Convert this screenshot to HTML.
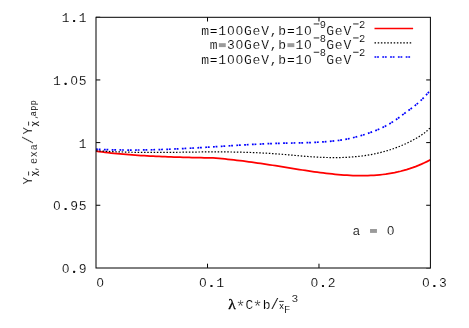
<!DOCTYPE html>
<html><head><meta charset="utf-8"><title>plot</title>
<style>
html,body{margin:0;padding:0;background:#fff;}
body{width:469px;height:328px;overflow:hidden;}
svg{display:block;will-change:transform;}
text{font-family:"Liberation Mono",monospace;fill:#000;stroke:#fff;stroke-width:0.15px;white-space:pre;}
.t{font-size:13.0px;letter-spacing:0.770px;}
.s{font-size:10.4px;letter-spacing:0.600px;stroke-width:0.1px;}
</style></head><body>
<svg width="469" height="328" viewBox="0 0 469 328">
<rect x="0" y="0" width="469" height="328" fill="#fff"/>
<path d="M96.10,151.18 L99.10,151.58 L102.09,151.97 L105.09,152.33 L108.09,152.68 L111.09,153.01 L114.08,153.33 L117.08,153.63 L120.08,153.91 L123.08,154.18 L126.07,154.44 L129.07,154.68 L132.07,154.91 L135.07,155.12 L138.06,155.33 L141.06,155.52 L144.06,155.70 L147.06,155.87 L150.05,156.03 L153.05,156.18 L156.05,156.33 L159.05,156.46 L162.04,156.59 L165.04,156.70 L168.04,156.81 L171.04,156.92 L174.03,157.02 L177.03,157.11 L180.03,157.20 L183.03,157.28 L186.02,157.36 L189.02,157.43 L192.02,157.51 L195.02,157.58 L198.01,157.65 L201.01,157.71 L204.01,157.78 L207.01,157.84 L210.00,157.91 L213.00,157.97 L215.98,158.22 L218.96,158.46 L221.93,158.72 L224.91,158.99 L227.89,159.29 L230.87,159.60 L233.85,159.92 L236.82,160.26 L239.80,160.62 L242.78,160.99 L245.76,161.37 L248.74,161.77 L251.72,162.17 L254.69,162.59 L257.67,163.01 L260.65,163.45 L263.63,163.89 L266.61,164.34 L269.58,164.80 L272.56,165.26 L275.54,165.73 L278.52,166.21 L281.50,166.68 L284.47,167.16 L287.45,167.64 L290.43,168.12 L293.41,168.60 L296.39,169.07 L299.36,169.54 L302.34,170.01 L305.32,170.46 L308.30,170.91 L311.28,171.35 L314.25,171.77 L317.23,172.18 L320.21,172.58 L323.19,172.96 L326.17,173.32 L329.15,173.66 L332.12,173.98 L335.10,174.28 L338.08,174.56 L341.06,174.81 L344.04,175.04 L347.01,175.23 L349.99,175.40 L352.97,175.53 L355.95,175.62 L358.93,175.68 L361.90,175.70 L364.88,175.67 L367.86,175.60 L370.84,175.48 L373.82,175.32 L376.79,175.10 L379.77,174.83 L382.75,174.50 L385.73,174.12 L388.71,173.67 L391.68,173.16 L394.66,172.59 L397.64,171.95 L400.62,171.24 L403.60,170.46 L406.58,169.60 L409.55,168.67 L412.53,167.66 L415.51,166.57 L418.49,165.40 L421.47,164.14 L424.44,162.80 L427.42,161.36 L430.40,159.84" fill="none" stroke="#ff0000" stroke-width="1.75" stroke-linejoin="round"/>
<path d="M96.10,150.73 L99.08,150.92 L102.07,151.10 L105.05,151.27 L108.04,151.42 L111.02,151.56 L114.01,151.69 L116.99,151.81 L119.98,151.92 L122.96,152.01 L125.95,152.10 L128.93,152.18 L131.92,152.24 L134.90,152.30 L137.89,152.35 L140.87,152.39 L143.86,152.42 L146.84,152.44 L149.83,152.45 L152.81,152.46 L155.80,152.46 L158.78,152.45 L161.77,152.43 L164.75,152.41 L167.74,152.38 L170.72,152.35 L173.71,152.32 L176.69,152.28 L179.67,152.25 L182.66,152.21 L185.64,152.17 L188.63,152.13 L191.61,152.09 L194.60,152.05 L197.58,152.02 L200.57,151.98 L203.55,151.96 L206.54,151.93 L209.52,151.91 L212.51,151.90 L215.49,151.89 L218.48,151.90 L221.46,151.90 L224.45,151.92 L227.43,151.95 L230.42,151.98 L233.40,152.03 L236.39,152.08 L239.37,152.15 L242.36,152.23 L245.34,152.31 L248.33,152.41 L251.31,152.51 L254.30,152.63 L257.28,152.76 L260.27,152.90 L263.25,153.05 L266.23,153.22 L269.22,153.40 L272.20,153.59 L275.19,153.79 L278.17,154.00 L281.16,154.23 L284.14,154.47 L287.13,154.72 L290.11,154.98 L293.10,155.25 L296.08,155.51 L299.07,155.77 L302.05,156.03 L305.04,156.28 L308.02,156.51 L311.01,156.73 L313.99,156.92 L316.98,157.10 L319.96,157.25 L322.95,157.37 L325.93,157.47 L328.92,157.54 L331.90,157.59 L334.89,157.60 L337.87,157.58 L340.86,157.52 L343.84,157.43 L346.82,157.30 L349.81,157.13 L352.79,156.91 L355.78,156.65 L358.76,156.35 L361.75,155.99 L364.73,155.59 L367.72,155.13 L370.70,154.61 L373.69,154.04 L376.67,153.41 L379.66,152.72 L382.64,151.97 L385.63,151.15 L388.61,150.26 L391.60,149.30 L394.58,148.27 L397.57,147.17 L400.55,145.99 L403.54,144.73 L406.52,143.37 L409.51,141.93 L412.49,140.39 L415.48,138.75 L418.46,137.00 L421.45,135.10 L424.43,132.96 L427.42,130.49 L430.40,127.62" fill="none" stroke="#000" stroke-width="1.2" stroke-dasharray="1.5 1.7"/>
<path d="M96.10,149.22 L99.08,149.36 L102.07,149.49 L105.05,149.60 L108.04,149.70 L111.02,149.79 L114.01,149.86 L116.99,149.92 L119.98,149.97 L122.96,150.00 L125.95,150.03 L128.93,150.04 L131.92,150.04 L134.90,150.03 L137.89,150.01 L140.87,149.98 L143.86,149.94 L146.84,149.89 L149.83,149.83 L152.81,149.76 L155.80,149.68 L158.78,149.59 L161.77,149.50 L164.75,149.39 L167.74,149.28 L170.72,149.16 L173.71,149.04 L176.69,148.90 L179.67,148.76 L182.66,148.62 L185.64,148.46 L188.63,148.31 L191.61,148.14 L194.60,147.97 L197.58,147.80 L200.57,147.62 L203.55,147.44 L206.54,147.25 L209.52,147.06 L212.51,146.87 L215.49,146.68 L218.48,146.49 L221.46,146.30 L224.45,146.11 L227.43,145.92 L230.42,145.73 L233.40,145.54 L236.39,145.35 L239.37,145.17 L242.36,144.99 L245.34,144.82 L248.33,144.65 L251.31,144.49 L254.30,144.33 L257.28,144.18 L260.27,144.03 L263.25,143.90 L266.23,143.77 L269.22,143.65 L272.20,143.54 L275.19,143.44 L278.17,143.35 L281.16,143.27 L284.14,143.20 L287.13,143.14 L290.11,143.08 L293.10,143.01 L296.08,142.95 L299.07,142.88 L302.05,142.81 L305.04,142.73 L308.02,142.64 L311.01,142.53 L313.99,142.41 L316.98,142.27 L319.96,142.10 L322.95,141.92 L325.93,141.71 L328.92,141.47 L331.90,141.19 L334.89,140.87 L337.87,140.50 L340.86,140.09 L343.84,139.61 L346.82,139.06 L349.81,138.45 L352.79,137.77 L355.78,137.02 L358.76,136.21 L361.75,135.35 L364.73,134.43 L367.72,133.46 L370.70,132.42 L373.69,131.30 L376.67,130.10 L379.66,128.82 L382.64,127.43 L385.63,125.93 L388.61,124.32 L391.60,122.58 L394.58,120.68 L397.57,118.61 L400.55,116.38 L403.54,114.10 L406.52,111.89 L409.51,109.72 L412.49,107.53 L415.48,105.21 L418.46,102.71 L421.45,99.94 L424.43,96.87 L427.42,93.60 L430.40,90.33" fill="none" stroke="#0000ff" stroke-width="1.7" stroke-dasharray="1.8 0.8 1.8 3.4"/>
<rect x="96.0" y="17.3" width="334.40" height="250.70" fill="none" stroke="#000" stroke-width="1"/>
<path d="M96,16.95 h4.2 M430.6,268.35 h-4.4" stroke="#000" stroke-opacity="0.5" stroke-width="0.9" fill="none"/>
<path d="M207.53,267.9 v-4.2 M207.53,17.3 v4.2" stroke="#000" stroke-width="1" fill="none"/>
<path d="M318.97,267.9 v-4.2 M318.97,17.3 v4.2" stroke="#000" stroke-width="1" fill="none"/>
<path d="M96.1,205.25 h4.2 M430.4,205.25 h-4.2" stroke="#000" stroke-width="1" fill="none"/>
<path d="M96.1,142.60 h4.2 M430.4,142.60 h-4.2" stroke="#000" stroke-width="1" fill="none"/>
<path d="M96.1,79.95 h4.2 M430.4,79.95 h-4.2" stroke="#000" stroke-width="1" fill="none"/>
<text class="t" x="61.67" y="272.60">0.9</text>
<ellipse cx="65.58" cy="268.20" rx="1.15" ry="1.9" fill="#fff"/>
<rect x="73.14" y="270.70" width="2.0" height="2.0" rx="0.5" fill="#111"/>
<text class="t" x="53.10" y="209.95">0.95</text>
<ellipse cx="57.00" cy="205.55" rx="1.15" ry="1.9" fill="#fff"/>
<rect x="64.58" y="208.05" width="2.0" height="2.0" rx="0.5" fill="#111"/>
<text class="t" x="78.82" y="148.20">1</text>
<text class="t" x="53.10" y="84.65">1.05</text>
<rect x="64.58" y="82.75" width="2.0" height="2.0" rx="0.5" fill="#111"/>
<ellipse cx="74.14" cy="80.25" rx="1.15" ry="1.9" fill="#fff"/>
<text class="t" x="61.67" y="22.00">1.1</text>
<rect x="73.14" y="20.10" width="2.0" height="2.0" rx="0.5" fill="#111"/>
<text class="t" x="96.20" y="287.00">0</text>
<ellipse cx="100.10" cy="282.60" rx="1.15" ry="1.9" fill="#fff"/>
<text class="t" x="199.06" y="287.00">0.1</text>
<ellipse cx="202.96" cy="282.60" rx="1.15" ry="1.9" fill="#fff"/>
<rect x="210.53" y="285.10" width="2.0" height="2.0" rx="0.5" fill="#111"/>
<text class="t" x="310.50" y="287.00">0.2</text>
<ellipse cx="314.40" cy="282.60" rx="1.15" ry="1.9" fill="#fff"/>
<rect x="321.97" y="285.10" width="2.0" height="2.0" rx="0.5" fill="#111"/>
<text class="t" x="421.93" y="287.00">0.3</text>
<ellipse cx="425.83" cy="282.60" rx="1.15" ry="1.9" fill="#fff"/>
<rect x="433.40" y="285.10" width="2.0" height="2.0" rx="0.5" fill="#111"/>
<text class="t" x="201.20" y="34.70">m=100GeV,b=10</text>
<ellipse cx="230.81" cy="30.30" rx="1.15" ry="1.9" fill="#fff"/>
<ellipse cx="239.38" cy="30.30" rx="1.15" ry="1.9" fill="#fff"/>
<ellipse cx="307.94" cy="30.30" rx="1.15" ry="1.9" fill="#fff"/>
<path d="M313.73,23.95 h5.5" stroke="#111" stroke-width="0.9" fill="none"/>
<text class="s" x="319.67" y="27.90">9</text>
<text class="t" x="326.29" y="34.70">GeV</text>
<path d="M353.12,23.95 h5.5" stroke="#111" stroke-width="0.9" fill="none"/>
<text class="s" x="359.06" y="27.90">2</text>
<text class="t" x="209.77" y="49.20">m 30GeV,b 10</text>
<rect x="218.86" y="43.20" width="6.9" height="3.9" fill="#9a9a9a"/>
<ellipse cx="239.38" cy="44.80" rx="1.15" ry="1.9" fill="#fff"/>
<rect x="287.42" y="43.20" width="6.9" height="3.9" fill="#9a9a9a"/>
<ellipse cx="307.94" cy="44.80" rx="1.15" ry="1.9" fill="#fff"/>
<path d="M313.73,37.95 h5.5" stroke="#111" stroke-width="0.9" fill="none"/>
<text class="s" x="319.67" y="41.90">8</text>
<text class="t" x="326.29" y="49.20">GeV</text>
<path d="M353.12,37.95 h5.5" stroke="#111" stroke-width="0.9" fill="none"/>
<text class="s" x="359.06" y="41.90">2</text>
<text class="t" x="201.20" y="64.10">m=100GeV,b=10</text>
<ellipse cx="230.81" cy="59.70" rx="1.15" ry="1.9" fill="#fff"/>
<ellipse cx="239.38" cy="59.70" rx="1.15" ry="1.9" fill="#fff"/>
<ellipse cx="307.94" cy="59.70" rx="1.15" ry="1.9" fill="#fff"/>
<path d="M313.73,52.25 h5.5" stroke="#111" stroke-width="0.9" fill="none"/>
<text class="s" x="319.67" y="56.20">8</text>
<text class="t" x="326.29" y="64.10">GeV</text>
<path d="M353.12,52.25 h5.5" stroke="#111" stroke-width="0.9" fill="none"/>
<text class="s" x="359.06" y="56.20">2</text>
<path d="M374.5,28.5 H413.1" stroke="#ff0000" stroke-width="1.65" fill="none"/>
<path d="M374.5,42.8 H412.2" stroke="#000" stroke-width="1.2" stroke-dasharray="1.5 1.7" fill="none"/>
<path d="M374.5,57.0 H413.1" stroke="#0000ff" stroke-width="1.7" stroke-dasharray="1.8 0.8 1.8 3.4" fill="none"/>
<text class="t" x="352.38" y="235.00">a   0</text>
<rect x="370.04" y="229.00" width="6.9" height="3.9" fill="#9a9a9a"/>
<ellipse cx="390.56" cy="230.60" rx="1.15" ry="1.9" fill="#fff"/>
<text x="228.3" y="308.5" style="font-family:'Liberation Serif',serif;font-size:15.5px;letter-spacing:0;stroke:#000;stroke-width:0.35px">&#955;</text>
<text class="t" x="236.95" y="308.50"> C b</text>
<text x="274.83" y="309.1" text-anchor="middle" style="font-size:14.4px;letter-spacing:0;stroke-width:0.15px">/</text>
<text x="240.45" y="312.1" text-anchor="middle" style="font-size:16px;letter-spacing:0;stroke-width:0.3px">*</text>
<text x="257.59" y="312.1" text-anchor="middle" style="font-size:16px;letter-spacing:0;stroke-width:0.3px">*</text>
<text x="278.9" y="308.5" style="font-size:8.5px;letter-spacing:0;stroke-width:0">x</text>
<path d="M279.1,301.4 h4.7" stroke="#000" stroke-width="0.8" fill="none"/>
<text x="284.0" y="312.9" style="font-size:10.4px;letter-spacing:0;stroke-width:0.1px">F</text>
<text x="291.5" y="301.6" style="font-size:11.2px;letter-spacing:0;stroke-width:0.1px">3</text>
<text transform="translate(31.70,184.40) rotate(-90)" style="font-size:12.3px;letter-spacing:0.000px;stroke-width:0.2px;">Y</text>
<text transform="translate(36.60,176.30) rotate(-90)" style="font-size:9.0px;letter-spacing:0.000px;stroke-width:0.1px;stroke:#000;">&#967;</text>
<path d="M28.6,175.50 v-4.0" stroke="#000" stroke-width="0.8" fill="none"/>
<text transform="translate(31.70,134.50) rotate(-90)" style="font-size:12.3px;letter-spacing:0.000px;stroke-width:0.2px;">Y</text>
<text transform="translate(36.60,126.40) rotate(-90)" style="font-size:9.0px;letter-spacing:0.000px;stroke-width:0.1px;stroke:#000;">&#967;</text>
<path d="M28.6,125.60 v-4.0" stroke="#000" stroke-width="0.8" fill="none"/>
<text transform="translate(37.00,171.50) rotate(-90)" style="font-size:10.0px;letter-spacing:0.000px;stroke-width:0.15px;">,</text>
<text transform="translate(37.00,164.11) rotate(-90)" style="font-size:10.0px;letter-spacing:0.970px;stroke-width:0.15px;">exa</text>
<text transform="translate(32.60,144.30) rotate(-90)" style="font-size:14.5px;letter-spacing:0.000px;stroke-width:0.25px;">/</text>
<text transform="translate(36.50,119.20) rotate(-90)" style="font-size:7.8px;letter-spacing:0.000px;stroke-width:0.1px;">,</text>
<text transform="translate(36.40,116.34) rotate(-90)" style="font-size:8.3px;letter-spacing:0.520px;stroke-width:0.0px;">app</text>
</svg></body></html>
